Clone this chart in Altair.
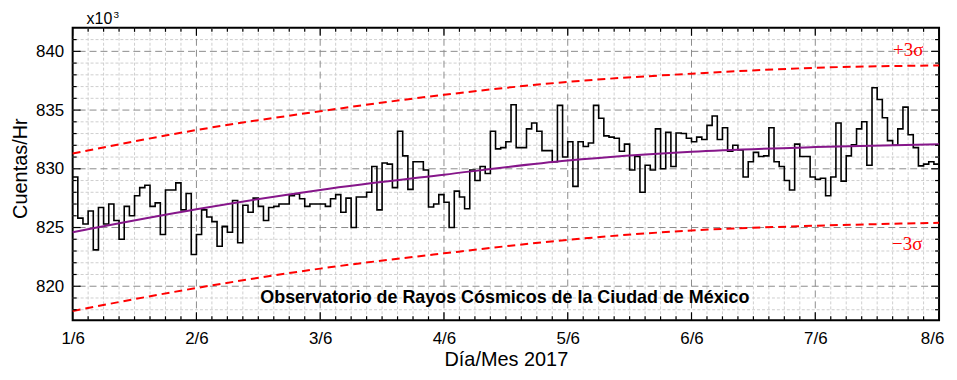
import altair as alt
import pandas as pd

# ---------------- data ----------------
day_labels = ["1/6", "2/6", "3/6", "4/6", "5/6", "6/6", "7/6", "8/6"]

# hourly counts (x10^3 counts/hr), one list per day
d1 = [829.3, 825.8, 825.3, 826.4, 823.1, 826.7, 825.3, 827.0, 825.6, 824.0, 826.8, 826.0,
      827.7, 828.4, 828.6, 826.8, 827.1, 824.4, 828.2, 828.2, 828.8, 826.5, 827.9, 822.7]
d2 = [824.4, 826.5, 825.9, 825.5, 823.4, 825.1, 824.6, 827.3, 823.7, 826.9, 826.3, 827.5,
      826.8, 825.6, 826.7, 826.8, 827.0, 827.0, 827.7, 827.85, 827.45, 826.8, 827.0, 827.0]
d3 = [827.0, 826.8, 827.45, 827.8, 826.3, 827.5, 825.0, 827.6, 827.6, 828.0, 830.2, 826.5,
      830.5, 830.4, 828.4, 833.2, 831.1, 828.25, 830.6, 830.6, 829.9, 826.75, 827.0, 827.8]
d4 = [827.15, 825.0, 828.1, 827.6, 826.6, 829.9, 829.0, 830.2, 829.6, 833.2, 831.7, 831.8,
      832.3, 835.45, 831.8, 831.8, 833.4, 833.9, 833.2, 831.55, 831.55, 830.6, 835.4, 831.0]
d5 = [832.3, 828.5, 832.3, 831.9, 832.2, 835.4, 834.3, 832.8, 832.7, 832.6, 831.5, 832.1,
      829.9, 831.05, 828.0, 830.3, 829.9, 833.4, 830.0, 833.1, 830.2, 833.05, 833.0, 832.6]
d6 = [832.3, 832.7, 832.5, 833.7, 834.5, 832.5, 833.5, 831.5, 832.0, 831.6, 829.3, 830.6,
      831.4, 831.05, 831.1, 833.5, 830.6, 830.2, 829.0, 828.2, 832.1, 831.05, 831.05, 829.3]
d7 = [829.1, 829.2, 827.7, 829.3, 833.9, 828.95, 831.1, 832.05, 833.4, 834.0, 830.3, 836.9,
      835.9, 834.35, 832.4, 832.0, 833.4, 835.25, 832.9, 831.8, 830.25, 830.4, 830.6, 830.4]

# trend curve and +/-3 sigma bands, read at each day mark
day_hours = [0, 24, 48, 72, 96, 120, 144, 168]
fit_values = [824.6, 826.55, 828.2, 829.5, 830.7, 831.45, 831.85, 832.1]
upper_values = [831.3, 833.3, 834.9, 836.3, 837.4, 838.1, 838.6, 838.8]
lower_values = [817.9, 819.85, 821.5, 822.8, 823.95, 824.75, 825.15, 825.4]

y_major = [820, 825, 830, 835, 840]

# ---------------- frames ----------------
counts = d1 + d2 + d3 + d4 + d5 + d6 + d7
n = len(counts)
step_df = pd.DataFrame({"hour": list(range(n)) + [n], "value": counts + [counts[-1]]})
band_df = pd.DataFrame({"hour": day_hours, "fit": fit_values,
                        "upper": upper_values, "lower": lower_values})

x_minor = [h for h in range(3, n, 3) if h % 24 != 0]
y_minor = [v for v in range(818, 842) if v % 5 != 0]

W, H = 871, 294
xs = alt.Scale(domain=[0, n], nice=False, zero=False)
ys = alt.Scale(domain=[817.1, 842.0], nice=False, zero=False)

FONT = "Liberation Sans"

label_expr = "[" + ",".join("'%s'" % l for l in day_labels) + "][round(datum.value/24)]"

x_axis = alt.Axis(values=day_hours, labelExpr=label_expr, grid=False, ticks=False, domain=False,
                  labelFlush=False,
                  labelFont=FONT, labelFontSize=17, labelColor="black", labelPadding=10,
                  labelOffset={"condition": {"test": "datum.value >= 168", "value": -7}, "value": 0},
                  title="Día/Mes 2017", titleFont=FONT, titleFontSize=20, titleFontWeight="normal",
                  titleColor="black", titleX=W / 2, titleY=39, titleBaseline="middle")
y_axis = alt.Axis(values=y_major, grid=False, ticks=False, domain=False, labelFlush=False,
                  labelFont=FONT, labelFontSize=17, labelColor="black", labelPadding=9,
                  title="Cuentas/Hr", titleFont=FONT, titleFontSize=20, titleFontWeight="normal",
                  titleColor="black", titleX=-52, titleY=H / 2 - 6, titleAngle=270,
                  titleBaseline="middle", titleAlign="center")


def X(field):
    return alt.X(field, scale=xs, axis=x_axis)


def Y(field):
    return alt.Y(field, scale=ys, axis=y_axis)


def xdf(vals):
    return pd.DataFrame({"h": vals})


def ydf(vals):
    return pd.DataFrame({"v": vals})


# grid
g_xmin = alt.Chart(xdf(x_minor)).mark_rule(color="#cfcfcf", strokeWidth=1, strokeDash=[3, 2]).encode(
    x=X("h:Q"))
g_ymin = alt.Chart(ydf(y_minor)).mark_rule(color="#cfcfcf", strokeWidth=1, strokeDash=[3, 2]).encode(
    y=Y("v:Q"))
g_xmaj = alt.Chart(xdf(day_hours[1:-1])).mark_rule(color="#8c8c8c", strokeWidth=1, strokeDash=[7, 4]).encode(
    x=X("h:Q"))
g_ymaj = alt.Chart(ydf(y_major)).mark_rule(color="#8c8c8c", strokeWidth=1, strokeDash=[7, 4]).encode(
    y=Y("v:Q"))

# data
step = alt.Chart(step_df).mark_line(interpolate="step-after", color="black", strokeWidth=1.6).encode(
    x=X("hour:Q"), y=Y("value:Q"))
fit = alt.Chart(band_df).mark_line(interpolate="monotone", color="#86168a", strokeWidth=2).encode(
    x=X("hour:Q"), y=Y("fit:Q"))
upper = alt.Chart(band_df).mark_line(interpolate="monotone", color="#ff0000", strokeWidth=2,
                                     strokeDash=[8, 5]).encode(x=X("hour:Q"), y=Y("upper:Q"))
lower = alt.Chart(band_df).mark_line(interpolate="monotone", color="#ff0000", strokeWidth=2,
                                     strokeDash=[8, 5]).encode(x=X("hour:Q"), y=Y("lower:Q"))

# inward ticks on all four sides
tick_layers = []
for vals, ln in ((y_major, 8), (y_minor, 4)):
    for x0, x1 in ((0, ln), (W - ln, W)):
        tick_layers.append(alt.Chart(ydf(vals)).mark_rule(color="black", strokeWidth=1.2).encode(
            y=Y("v:Q"), x=alt.value(x0), x2=alt.value(x1)))
for vals, ln in ((day_hours, 8), (x_minor, 4)):
    for y0, y1 in ((0, ln), (H - ln, H)):
        tick_layers.append(alt.Chart(xdf(vals)).mark_rule(color="black", strokeWidth=1.2).encode(
            x=X("h:Q"), y=alt.value(y0), y2=alt.value(y1)))

# texts
t_x10 = alt.Chart(pd.DataFrame({"t": ["x10"]})).mark_text(
    font=FONT, fontSize=16, align="left", baseline="alphabetic", color="black").encode(
    text="t:N", x=alt.value(14), y=alt.value(-4))
t_exp = alt.Chart(pd.DataFrame({"t": ["3"]})).mark_text(
    font=FONT, fontSize=10, align="left", baseline="alphabetic", color="black").encode(
    text="t:N", x=alt.value(41), y=alt.value(-10))
t_obs = alt.Chart(pd.DataFrame({"t": ["Observatorio de Rayos Cósmicos de la Ciudad de México"]})).mark_text(
    font=FONT, fontSize=18, fontWeight="bold", align="center", baseline="middle", color="black").encode(
    text="t:N", x=alt.value(W / 2 - 1), y=alt.value(271.5))
t_up = alt.Chart(pd.DataFrame({"t": ["+3σ"]})).mark_text(
    font="Liberation Serif", fontSize=19, align="center", baseline="middle", color="#ff0000").encode(
    text="t:N", x=alt.value(840), y=alt.value(22))
t_lo = alt.Chart(pd.DataFrame({"t": ["\u22123σ"]})).mark_text(
    font="Liberation Serif", fontSize=19, align="center", baseline="middle", color="#ff0000").encode(
    text="t:N", x=alt.value(839), y=alt.value(217))

chart = alt.layer(
    g_xmin, g_ymin, g_xmaj, g_ymaj,
    step, fit, upper, lower,
    *tick_layers,
    t_x10, t_exp, t_obs, t_up, t_lo,
).properties(
    width=W, height=H,
    autosize=alt.AutoSizeParams(type="none"),
    padding={"left": 65, "top": 19, "right": 10, "bottom": 50},
).configure_view(stroke="black", strokeWidth=2)

chart.save("out.html", embed_options={"renderer": "svg", "actions": False})
